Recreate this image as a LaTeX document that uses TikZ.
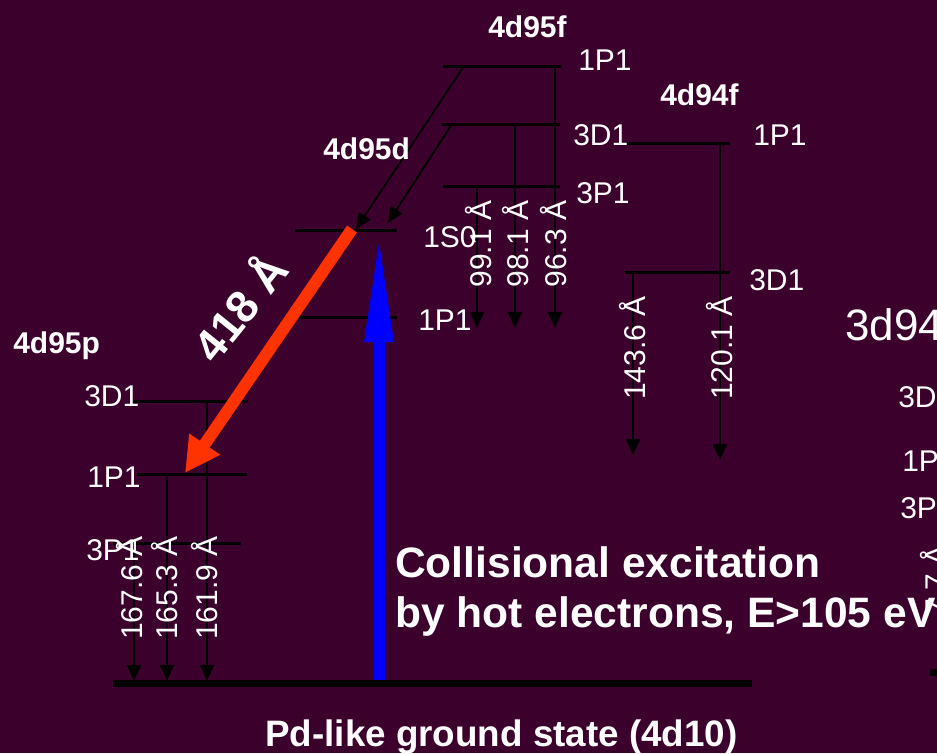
\documentclass[tikz,border=0pt]{standalone}
\usepackage{fontspec}
\setmainfont{Liberation Sans}
\usetikzlibrary{arrows.meta}
\definecolor{bgpurple}{RGB}{60,0,45}
\definecolor{laserred}{RGB}{255,51,0}
\begin{document}
\begin{tikzpicture}[x=0.75pt,y=-0.75pt,
  level/.style={line width=2.25pt, black},
  decay/.style={line width=1.7pt, black, -{Triangle[length=12pt,width=10.5pt]}},
  lab/.style={text=white, inner sep=0pt, font=\fontsize{22.5}{27}\selectfont},
  conf/.style={text=white, inner sep=0pt, font=\fontsize{22.5}{27}\selectfont\bfseries},
  wl/.style={lab, rotate=90, anchor=base},
  big/.style={text=white, inner sep=0pt, font=\fontsize{31.9}{38}\selectfont\bfseries},
]
\useasboundingbox (0,0) rectangle (937,753);
\fill[bgpurple] (0,0) rectangle (937,753);
\clip (0,0) rectangle (937,753);

% ---------- coordinates: 4d95f ----------
\coordinate (fPa) at (443,66);  \coordinate (fPb) at (562,66);
\coordinate (fDa) at (442,124); \coordinate (fDb) at (560,124);
\coordinate (fTa) at (443,186); \coordinate (fTb) at (560,186);
\coordinate (fv1s) at (555,66);  \coordinate (fv1e) at (555,328);
\coordinate (fv2s) at (515,124); \coordinate (fv2e) at (515,328);
\coordinate (fv3s) at (477,186); \coordinate (fv3e) at (477,328);
\coordinate (fd1s) at (464,66);  \coordinate (fd1e) at (356,229);
\coordinate (fd2s) at (452,124); \coordinate (fd2e) at (388,223);
% ---------- 4d94f ----------
\coordinate (gPa) at (625,143); \coordinate (gPb) at (730,143);
\coordinate (gDa) at (625,272); \coordinate (gDb) at (730,272);
\coordinate (gv1s) at (720,143); \coordinate (gv1e) at (720,460);
\coordinate (gv2s) at (633,272); \coordinate (gv2e) at (633,455);
% ---------- 4d95d ----------
\coordinate (dSa) at (295,230); \coordinate (dSb) at (397,230);
\coordinate (dPa) at (295,317); \coordinate (dPb) at (397,317);
% ---------- 4d95p ----------
\coordinate (pDa) at (130,401); \coordinate (pDb) at (248,401);
\coordinate (pPa) at (137,474); \coordinate (pPb) at (247,474);
\coordinate (pTa) at (113,543); \coordinate (pTb) at (241,543);
\coordinate (pv1s) at (134,543); \coordinate (pv1e) at (134,681);
\coordinate (pv2s) at (167,474); \coordinate (pv2e) at (167,681);
\coordinate (pv3s) at (207,401); \coordinate (pv3e) at (207,681);
% ---------- ground ----------
\coordinate (gra) at (113,683); \coordinate (grb) at (752,683);
\coordinate (grc) at (930,672); \coordinate (grd) at (980,672);
% ---------- pump and laser ----------
\coordinate (lasS) at (352,229); \coordinate (lasE) at (185,473);
\coordinate (pumpS) at (379,680); \coordinate (pumpE) at (379,232);

% levels
\foreach \a/\b in {fPa/fPb,fDa/fDb,fTa/fTb,gPa/gPb,gDa/gDb,dSa/dSb,dPa/dPb,pDa/pDb,pPa/pPb,pTa/pTb}
  \draw[level] (\a) -- (\b);
\draw[line width=5.25pt] (gra) -- (grb);
\draw[line width=5.25pt] (grc) -- (grd);

% radiative decays
\foreach \a/\b in {fv1s/fv1e,fv2s/fv2e,fv3s/fv3e,gv1s/gv1e,gv2s/gv2e,pv1s/pv1e,pv2s/pv2e,pv3s/pv3e}
  \draw[decay] (\a) -- (\b);
\foreach \a/\b in {fd1s/fd1e,fd2s/fd2e}
  \draw[decay, line width=1.4pt] (\a) -- (\b);

% laser and pump arrows
\draw[laserred, line width=9pt, -{Triangle[length=26.25pt,width=26.25pt]}] (lasS) -- (lasE);
\draw[blue, line width=9pt, -{Triangle[length=82.5pt,width=19.5pt]}] (pumpS) -- (pumpE);

% configuration labels
\node[conf, anchor=base west] (c95f) at (488,37) {4d95f};
\node[conf, anchor=base west] (c94f) at (660,105) {4d94f};
\node[conf, anchor=base west] (c95d) at (323,159) {4d95d};
\node[conf, anchor=base west] (c95p) at (13,353) {4d95p};

% term labels
\node[lab, anchor=base west] (t1) at (578,70) {1P1};
\node[lab, anchor=base west] (t2) at (573,145) {3D1};
\node[lab, anchor=base west] (t3) at (576,203) {3P1};
\node[lab, anchor=base west] (t4) at (753,145) {1P1};
\node[lab, anchor=base west] (t5) at (749,290) {3D1};
\node[lab, anchor=base west] (t6) at (423,247) {1S0};
\node[lab, anchor=base west] (t7) at (418,330) {1P1};
\node[lab, anchor=base west] (t8) at (84,406) {3D1};
\node[lab, anchor=base west] (t9) at (87,487) {1P1};
\node[lab, anchor=base west] (t10) at (86,560) {3P1};

% wavelengths
\node[wl] (w1) at (491,244) {99.1 Å};
\node[wl] (w2) at (528,244) {98.1 Å};
\node[wl] (w3) at (566,244) {96.3 Å};
\node[wl] (w4) at (645,348) {143.6 Å};
\node[wl] (w5) at (732,348) {120.1 Å};
\node[wl] (w6) at (142,588) {167.6 Å};
\node[wl] (w7) at (177,588) {165.3 Å};
\node[wl] (w8) at (217,588) {161.9 Å};

% laser label
\node[text=white, inner sep=0pt, rotate=51, font=\fontsize{33.75}{40}\selectfont\bfseries] (las) at (238,306) {418 Å};

% right-hand (cut off) diagram
\node[text=white, inner sep=0pt, anchor=base west, font=\fontsize{33}{40}\selectfont] (c3d) at (845,340) {3d94};
\node[lab, anchor=base west] (r1) at (898,407) {3D1};
\node[lab, anchor=base west] (r2) at (902,471) {1P1};
\node[lab, anchor=base west] (r3) at (900,518) {3P1};
\node[lab, rotate=90, anchor=base east] (r4) at (946,545) {7.7 Å};

% texts
\node[big, anchor=base west] (coll1) at (395,577) {Collisional excitation};
\node[big, anchor=base west] (coll2) at (395,627) {by hot electrons, E>105 eV};
\node[text=white, inner sep=0pt, anchor=base west, font=\fontsize{27.6}{33}\selectfont\bfseries] (gs) at (265,746) {Pd-like ground state (4d10)};
\end{tikzpicture}
\end{document}
